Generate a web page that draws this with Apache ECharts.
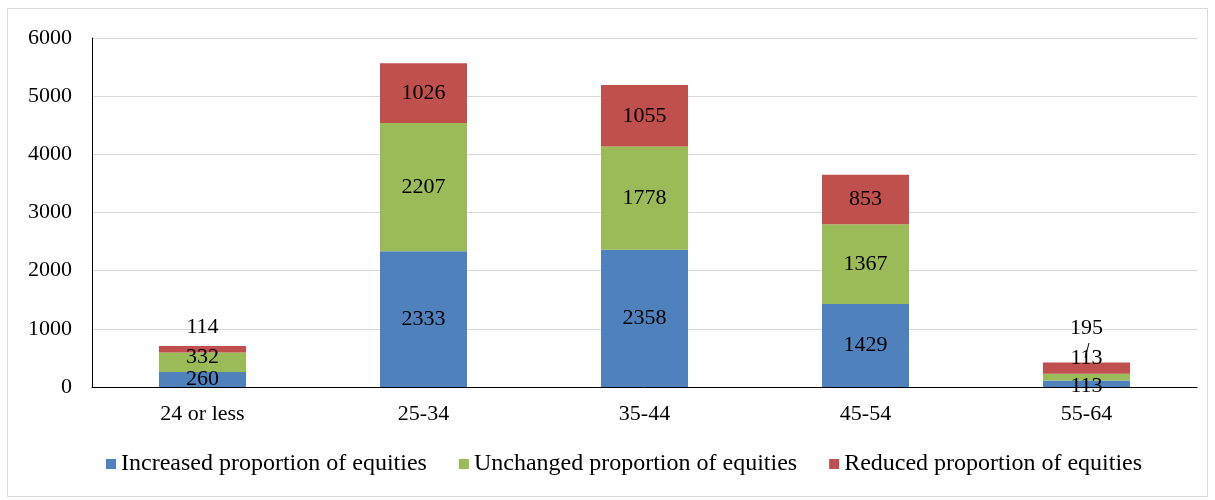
<!DOCTYPE html>
<html>
<head>
<meta charset="utf-8">
<script src="https://cdn.jsdelivr.net/npm/echarts@6/dist/echarts.min.js"></script>
<style>
  html, body { margin: 0; padding: 0; background: #fff; }
  #chart { width: 1215px; height: 500px; }
</style>
</head>
<body>
<div id="chart"></div>
<script>
// age groups and the three answer groups (counts)
const ageGroups = ['24 or less', '25-34', '35-44', '45-54', '55-64'];
const increased = [260, 2333, 2358, 1429, 113];
const unchanged = [332, 2207, 1778, 1367, 113];
const reduced = [114, 1026, 1055, 853, 195];
const yTicks = [0, 1000, 2000, 3000, 4000, 5000, 6000];

const font = '"Liberation Serif", "Times New Roman", serif';

// small label shifts (Excel nudged a few labels)
const labelShift = {
  increased: { 0: 0, 4: 3 },
  unchanged: { 0: -5, 4: -19 },
  reduced: { 0: -22, 4: -40 }
};

function makeData(values, key) {
  return values.map((v, i) => {
    const dy = labelShift[key][i];
    if (!dy) return v;
    return { value: v, label: { offset: [0, dy] } };
  });
}

const chart = echarts.init(document.getElementById('chart'));

const labelStyle = {
  show: true,
  position: 'inside',
  color: '#000',
  fontFamily: font,
  fontSize: 22
};

chart.setOption({
  animation: false,
  backgroundColor: '#fff',
  graphic: [{
    type: 'rect',
    shape: { x: 7.5, y: 8.5, width: 1200, height: 488 },
    style: { fill: 'none', stroke: '#d9d9d9', lineWidth: 1 },
    silent: true
  }, {
    // leader line for the small 55-64 label
    type: 'line',
    shape: { x1: 1089, y1: 343, x2: 1085, y2: 358 },
    style: { stroke: '#000', lineWidth: 1 },
    silent: true,
    z: 100
  }],
  grid: { left: 92, right: 18, top: 38, bottom: 113 },
  legend: {
    bottom: 19,
    left: 101,
    itemWidth: 10,
    itemHeight: 10,
    itemGap: 32,
    icon: 'rect',
    textStyle: { fontFamily: font, fontSize: 24, color: '#000' },
    data: ['Increased proportion of equities', 'Unchanged proportion of equities', 'Reduced proportion of equities']
  },
  xAxis: {
    type: 'category',
    data: ageGroups,
    axisLine: { lineStyle: { color: '#000', width: 1 } },
    axisTick: { show: false },
    axisLabel: { color: '#000', fontFamily: font, fontSize: 22, margin: 16 }
  },
  yAxis: {
    type: 'value',
    min: yTicks[0],
    max: yTicks[yTicks.length - 1],
    interval: 1000,
    axisLine: { show: true, lineStyle: { color: '#000', width: 1 } },
    axisTick: { show: false },
    splitLine: { lineStyle: { color: '#d9d9d9', width: 1 } },
    axisLabel: {
      color: '#000', fontFamily: font, fontSize: 22, margin: 20,
      formatter: (v) => String(v)
    }
  },
  series: [{
    name: 'Increased proportion of equities',
    type: 'bar',
    stack: 'total',
    barWidth: 87,
    itemStyle: { color: '#4f81bd' },
    label: labelStyle,
    data: makeData(increased, 'increased')
  }, {
    name: 'Unchanged proportion of equities',
    type: 'bar',
    stack: 'total',
    itemStyle: { color: '#9bbb59' },
    label: labelStyle,
    data: makeData(unchanged, 'unchanged')
  }, {
    name: 'Reduced proportion of equities',
    type: 'bar',
    stack: 'total',
    itemStyle: { color: '#c0504d' },
    label: labelStyle,
    data: makeData(reduced, 'reduced')
  }]
});
</script>
</body>
</html>
